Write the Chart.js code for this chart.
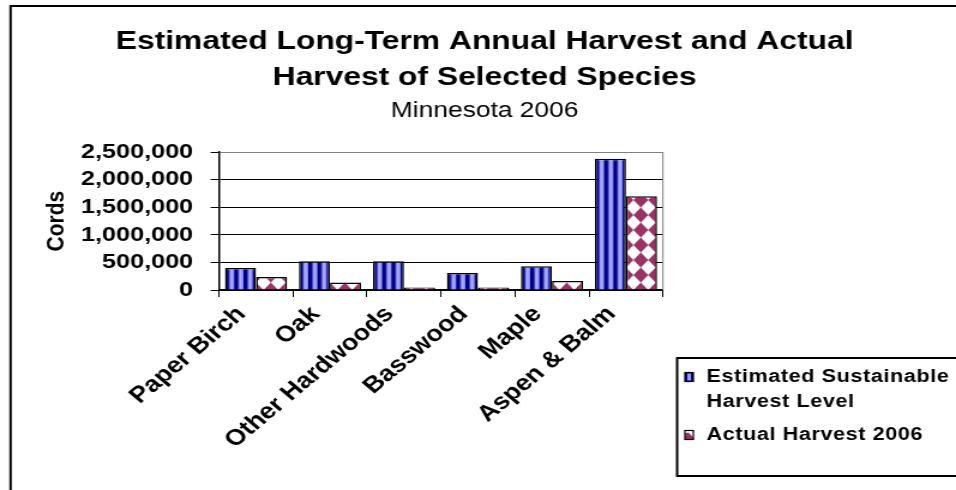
<!DOCTYPE html>
<html>
<head>
<meta charset="utf-8">
<script src="https://cdn.jsdelivr.net/npm/chart.js@4"></script>
<style>
  html, body { margin: 0; padding: 0; background: #fff; }
</style>
</head>
<body>
<!-- drawn narrower and stretched, like the original picture -->
<canvas id="myChart" width="797" height="490" style="display:block;width:956px;height:490px"></canvas>
<script>
const species = ['Paper Birch', 'Oak', 'Other Hardwoods', 'Basswood', 'Maple', 'Aspen & Balm'];
const sustainable = [400000, 520000, 520000, 310000, 430000, 2380000];
const actual2006 = [235000, 135000, 45000, 45000, 165000, 1700000];
const seriesNames = ['Estimated Sustainable Harvest Level', 'Actual Harvest 2006'];
const yTicks = [0, 500000, 1000000, 1500000, 2000000, 2500000];

const FONT = "'Liberation Sans', Arial, sans-serif";
const NAVY = '#000080';
const LIGHT = '#9999ff';
const MAROON = '#993366';
const CAT_PCT = 0.84;

// striped fill for the blue bars
const stripeTile = document.createElement('canvas');
stripeTile.width = 64; stripeTile.height = 4;
let sctx = stripeTile.getContext('2d');
sctx.fillStyle = NAVY;
sctx.fillRect(0, 0, 64, 4);
for (let i = 0; i < 8; i++) {
    const g = sctx.createLinearGradient(i * 8 + 3.5, 0, i * 8 + 8, 0);
    g.addColorStop(0, '#7878f0');
    g.addColorStop(0.5, '#b4b4ff');
    g.addColorStop(1, '#7878f0');
    sctx.fillStyle = g;
    sctx.fillRect(i * 8 + 3.5, 0, 4.5, 4);
}
const stripes = sctx.createPattern(stripeTile, 'repeat');

// diamond fill for the pink bars
const diamondTile = document.createElement('canvas');
diamondTile.width = 20; diamondTile.height = 20;
let dctx = diamondTile.getContext('2d');
dctx.fillStyle = '#fff';
dctx.fillRect(0, 0, 20, 20);
dctx.fillStyle = MAROON;
dctx.beginPath();
dctx.moveTo(10, 0); dctx.lineTo(20, 10); dctx.lineTo(10, 20); dctx.lineTo(0, 10);
dctx.closePath();
dctx.fill();
const diamonds = dctx.createPattern(diamondTile, 'repeat');

function wrap(ctx, text, maxW) {
    const words = text.split(' ');
    const lines = [];
    let cur = '';
    words.forEach(w => {
        const t = cur ? cur + ' ' + w : w;
        if (cur && ctx.measureText(t).width > maxW) { lines.push(cur); cur = w; }
        else cur = t;
    });
    lines.push(cur);
    return lines;
}

const decor = {
    id: 'decor',
    beforeDatasetsDraw(chart) {
        // line the patterns up with the bars
        const a = chart.chartArea;
        const catW = (a.right - a.left) / species.length;
        const barW = catW * CAT_PCT / 2;
        const x0 = a.left + (catW - 2 * barW) / 2;
        stripes.setTransform(new DOMMatrix().translate(x0, 0).scale(catW / 64, 1));
        const dw = catW / 5, dh = 15;
        diamonds.setTransform(new DOMMatrix().translate(x0 + barW - dw / 2, a.bottom - dh / 2).scale(dw / 20, dh / 20));
    },
    afterDraw(chart) {
        const ctx = chart.ctx;
        const a = chart.chartArea;
        ctx.save();
        // grey plot border on the right
        ctx.strokeStyle = '#808080';
        ctx.lineWidth = 1;
        ctx.beginPath();
        ctx.moveTo(a.right, a.top);
        ctx.lineTo(a.right, a.bottom);
        ctx.stroke();
        // outer frame
        ctx.strokeStyle = '#000';
        ctx.lineWidth = 2;
        ctx.strokeRect(8.8, 6, 820, 500);
        // legend
        ctx.strokeRect(564.5, 358, 260, 118);
        ctx.font = 'bold 18px ' + FONT;
        ctx.letterSpacing = '0.5px';
        ctx.textBaseline = 'middle';
        ctx.fillStyle = '#000';
        let y = 377;
        chart.data.datasets.forEach((ds, i) => {
            const mx = 571, my = y - 4.5, mw = 7, mh = 9;
            if (i === 0) {
                ctx.fillStyle = NAVY; ctx.fillRect(mx, my, mw, mh);
                ctx.fillStyle = LIGHT; ctx.fillRect(mx + 2, my + 1, 3, mh - 2);
            } else {
                ctx.fillStyle = '#fff'; ctx.fillRect(mx, my, mw, mh);
                ctx.fillStyle = MAROON;
                ctx.beginPath();
                ctx.moveTo(mx, my + mh); ctx.lineTo(mx, my + 3); ctx.lineTo(mx + 3, my + 2);
                ctx.lineTo(mx + mw, my + mh - 2); ctx.lineTo(mx + mw, my + mh);
                ctx.closePath(); ctx.fill();
            }
            ctx.lineWidth = 1.2;
            ctx.strokeStyle = '#000';
            ctx.strokeRect(mx, my, mw, mh);
            ctx.fillStyle = '#000';
            const lines = wrap(ctx, ds.label, 205);
            lines.forEach((ln, j) => ctx.fillText(ln, 589, y + j * 25));
            y += lines.length * 25 + 8;
        });
        ctx.restore();
    }
};

const ctx = document.getElementById('myChart').getContext('2d');
const myChart = new Chart(ctx, {
    type: 'bar',
    data: {
        labels: species,
        datasets: [{
            label: seriesNames[0],
            data: sustainable,
            backgroundColor: stripes,
            borderColor: '#000',
            borderWidth: 1.5,
            categoryPercentage: CAT_PCT,
            barPercentage: 1
        }, {
            label: seriesNames[1],
            data: actual2006,
            backgroundColor: diamonds,
            borderColor: '#000',
            borderWidth: 1.5,
            categoryPercentage: CAT_PCT,
            barPercentage: 1
        }]
    },
    options: {
        responsive: false,
        animation: false,
        devicePixelRatio: 1,
        layout: { padding: { left: 11, right: 0, top: 8, bottom: 0 } },
        plugins: {
            legend: { display: false },
            tooltip: { enabled: false },
            title: {
                display: true,
                text: ['Estimated Long-Term Annual Harvest and Actual', 'Harvest of Selected Species'],
                color: '#000',
                font: { family: FONT, size: 26.5, weight: 'bold', lineHeight: 1.36 },
                padding: { top: 16, bottom: 0 }
            },
            subtitle: {
                display: true,
                text: 'Minnesota 2006',
                color: '#000',
                font: { family: FONT, size: 22, lineHeight: 1.2 },
                padding: { top: 2, bottom: 27.6 }
            }
        },
        scales: {
            x: {
                grid: { offset: true, drawOnChartArea: false, tickColor: '#000', tickLength: 7 },
                border: { color: '#000', width: 1.5 },
                ticks: {
                    color: '#000',
                    font: { family: FONT, size: 22.5, weight: 'bold' },
                    minRotation: 45, maxRotation: 45,
                    autoSkip: false,
                    labelOffset: -12,
                    padding: 4
                },
                afterFit: s => { s.height = 200; }
            },
            y: {
                min: yTicks[0],
                max: yTicks[yTicks.length - 1],
                afterBuildTicks: s => { s.ticks = yTicks.map(v => ({ value: v })); },
                grid: {
                    color: c => (c.tick && c.tick.value === yTicks[yTicks.length - 1]) ? '#808080' : '#000',
                    tickColor: '#000',
                    tickLength: 7,
                    lineWidth: 1
                },
                border: { color: '#000', width: 1.5 },
                ticks: {
                    color: '#000',
                    font: { family: FONT, size: 21, weight: 'bold' },
                    padding: 14.6,
                    autoSkip: false,
                    callback: v => v.toLocaleString('en-US')
                },
                title: {
                    display: true,
                    text: 'Cords',
                    color: '#000',
                    font: { family: FONT, size: 21, weight: 'bold' },
                    padding: { top: 24, bottom: 0 }
                },
                afterFit: s => { s.width = 171.6; }
            },
            // empty right-hand spacer that keeps room for the legend
            y2: {
                position: 'right',
                display: true,
                grid: { display: false },
                border: { display: false },
                ticks: { display: false },
                afterFit: s => { s.width = 244.3; }
            }
        }
    },
    plugins: [decor]
});
</script>
</body>
</html>
